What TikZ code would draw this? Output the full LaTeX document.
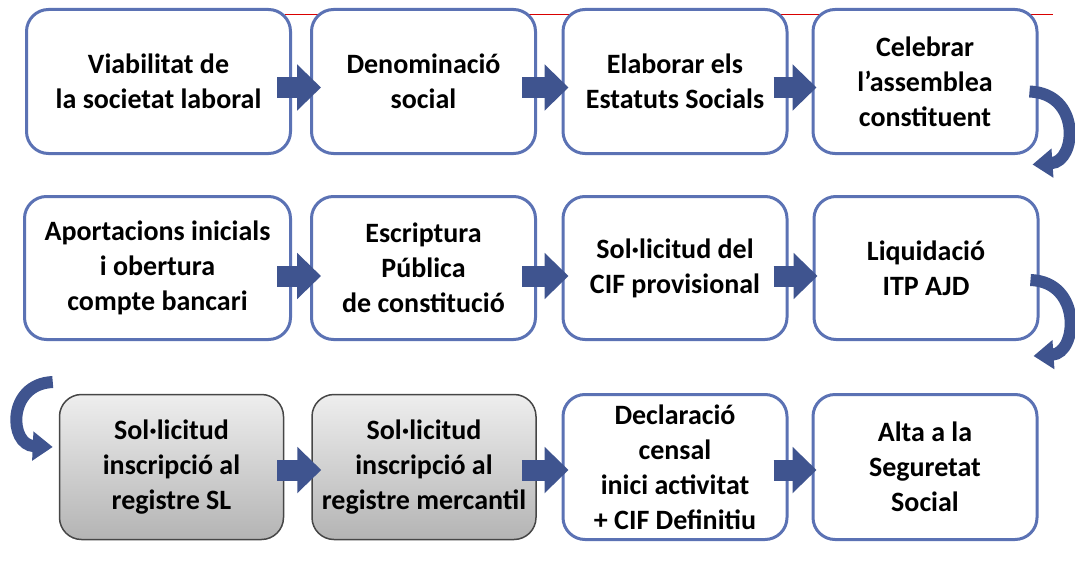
\documentclass[tikz,border=0pt]{standalone}
\usepackage{fontspec}
\setmainfont{Carlito}
\usepackage{tikz}
\usetikzlibrary{arrows.meta,calc}
\definecolor{vora}{RGB}{91,114,180}
\definecolor{fletxablau}{RGB}{63,84,143}
\definecolor{voragris}{RGB}{70,70,70}
\definecolor{grisclar}{RGB}{238,238,238}
\definecolor{grisfosc}{RGB}{180,180,180}

\begin{document}
\begin{tikzpicture}[x=1pt,y=-1pt,
    pas/.style={draw=vora, line width=3pt, fill=white, rounded corners=22pt,
        minimum width=224pt, minimum height=144pt, inner sep=0pt, align=center,
        font=\fontsize{28}{35}\selectfont\bfseries},
    pasgris/.style={pas, draw=voragris, line width=1.5pt, top color=grisclar, bottom color=grisfosc},
    fletxa/.style={fletxablau, line width=21pt, -{Triangle[length=24pt,width=45pt]}},
    corba/.style={fletxablau, line width=12pt, -{Triangle[length=20pt,width=28pt]}}]

        \useasboundingbox (0,0) rectangle (1075,583);
        \draw[red!85!black, line width=1pt] (285,15) -- (1053,15);

        % fila 1
        \node[pas, minimum width=264pt] (viab) at (158.5,81.5) {Viabilitat de\\la societat laboral};
        \node[pas] (denom) at (423.5,81.5) {Denominació\\social};
        \node[pas] (estat) at (675,81.5) {Elaborar els\\Estatuts Socials};
        \node[pas] (assem) at (925,81.5) {Celebrar\\l’assemblea\\constituent};

        % fila 2
        \node[pas, minimum width=266pt, minimum height=143pt] (aport) at (157.5,268) {Aportacions inicials\\i obertura\\compte bancari};
        \node[pas, minimum height=143pt] (escrip) at (423.5,268) {Escriptura\\Pública\\de constitució};
        \node[pas, minimum height=143pt] (cifprov) at (675,268) {Sol·licitud del\\CIF provisional};
        \node[pas, minimum height=143pt] (liquid) at (926,268) {Liquidació\\ITP AJD};

        % fila 3
        \node[pasgris, minimum height=145pt] (regsl) at (171.5,467) {Sol·licitud\\inscripció al\\registre SL};
        \node[pasgris, minimum height=145pt] (regmerc) at (424,467) {Sol·licitud\\inscripció al\\registre mercantil};
        \node[pas, minimum height=145pt] (censal) at (675,467) {Declaració\\censal\\inici activitat\\+ CIF Definitiu};
        \node[pas, minimum height=145pt] (alta) at (925,467) {Alta a la\\Seguretat\\Social};

        \draw[fletxa] ($(viab.east)+(-15,6)$) -- ($(denom.west)+(11,6)$);
        \draw[fletxa] ($(denom.east)+(-15,6)$) -- ($(estat.west)+(7,6)$);
        \draw[fletxa] ($(estat.east)+(-15,6)$) -- ($(assem.west)+(5,6)$);

        \draw[fletxa] ($(aport.east)+(-15,8)$) -- ($(escrip.west)+(11,8)$);
        \draw[fletxa] ($(escrip.east)+(-15,8)$) -- ($(cifprov.west)+(7,8)$);
        \draw[fletxa] ($(cifprov.east)+(-15,8)$) -- ($(liquid.west)+(5,8)$);

        \draw[fletxa] ($(regsl.east)+(-7,3)$) -- ($(regmerc.west)+(10,3)$);
        \draw[fletxa] ($(regmerc.east)+(-15,3)$) -- ($(censal.west)+(7,3)$);
        \draw[fletxa] ($(censal.east)+(-15,3)$) -- ($(alta.west)+(5,3)$);

        % girs entre files
        \coordinate (g1a) at ($(assem.east)+(-9,10)$);
        \coordinate (g1b) at ($(assem.east)+(-6,83)$);
        \draw[corba] (g1a) .. controls ($(g1a)+(52,2)$) and ($(g1b)+(44,-3)$) .. (g1b);
        \coordinate (g2a) at ($(liquid.east)+(-9,12)$);
        \coordinate (g2b) at ($(liquid.east)+(-6,88)$);
        \draw[corba] (g2a) .. controls ($(g2a)+(52,2)$) and ($(g2b)+(44,-3)$) .. (g2b);
        \coordinate (g3a) at ($(regsl.west)+(-6,-85)$);
        \coordinate (g3b) at ($(regsl.west)+(-6,-20)$);
        \draw[corba] (g3a) .. controls ($(g3a)+(-46,2)$) and ($(g3b)+(-44,-2)$) .. (g3b);
    \end{tikzpicture}
\end{document}
